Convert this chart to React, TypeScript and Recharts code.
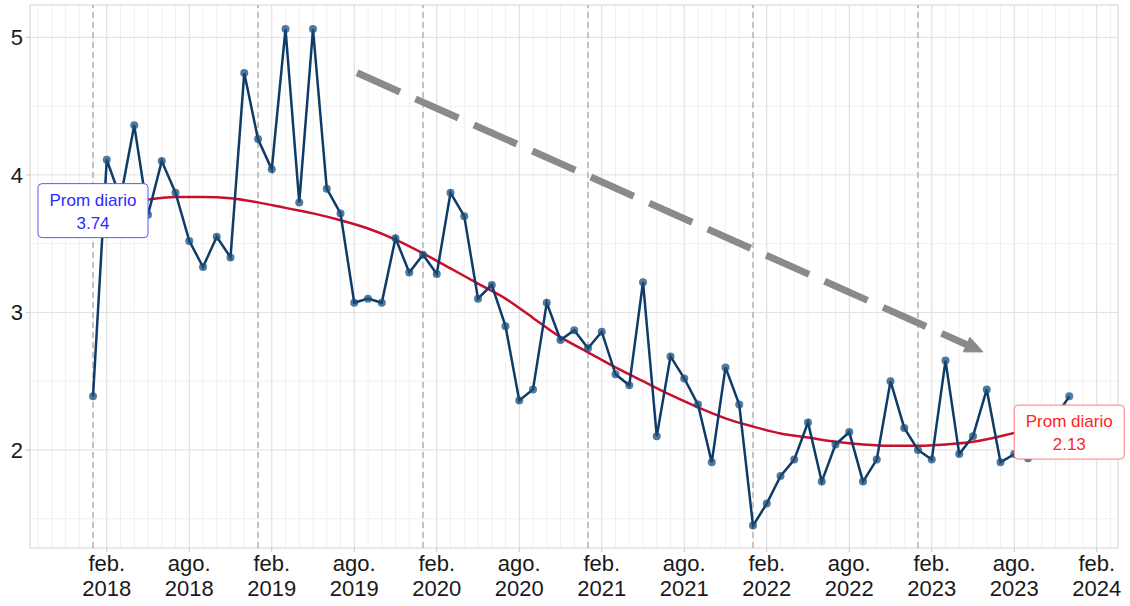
import React from 'react';
import {
  ComposedChart,
  Line,
  XAxis,
  YAxis,
  CartesianGrid,
  ReferenceLine,
  ReferenceDot,
  ReferenceArea,
} from 'recharts';

// Monthly series, Jan 2018 (index 0) .. Dec 2023 (index 71)
const VALUES: number[] = [
  2.39, 4.11, 3.83, 4.36, 3.71, 4.10, 3.87, 3.52, 3.33, 3.55, 3.40, 4.74,
  4.26, 4.04, 5.06, 3.80, 5.06, 3.90, 3.72, 3.07, 3.10, 3.07, 3.54, 3.29,
  3.42, 3.28, 3.87, 3.70, 3.10, 3.20, 2.90, 2.36, 2.44, 3.07, 2.80, 2.87,
  2.74, 2.86, 2.55, 2.47, 3.22, 2.10, 2.68, 2.52, 2.33, 1.91, 2.60, 2.33,
  1.45, 1.61, 1.81, 1.93, 2.20, 1.77, 2.04, 2.13, 1.77, 1.93, 2.50, 2.16,
  2.00, 1.93, 2.65, 1.97, 2.10, 2.44, 1.91, 1.97, 1.94, 2.10, 2.24, 2.39,
];

// Smoothed trend read at month indices
const TREND_MONTHS: number[] = [0, 2, 4, 6, 8, 10, 12, 14, 16, 18, 20, 22, 24, 26, 28, 30, 32, 34, 36, 38, 40, 42, 44, 46, 48, 50, 52, 54, 56, 58, 60, 62, 64, 66, 68, 70, 71];
const TREND_VALUES: number[] = [3.74, 3.79, 3.82, 3.84, 3.84, 3.83, 3.80, 3.76, 3.72, 3.67, 3.61, 3.53, 3.43, 3.32, 3.21, 3.10, 2.96, 2.82, 2.71, 2.60, 2.50, 2.40, 2.31, 2.23, 2.17, 2.12, 2.09, 2.06, 2.04, 2.03, 2.03, 2.04, 2.06, 2.10, 2.15, 2.21, 2.24];

// x tick labels (month index -> label)
const X_TICKS: number[] = [1, 7, 13, 19, 25, 31, 37, 43, 49, 55, 61, 67, 73];
const X_TICK_MONTHS: string[] = ['feb.', 'ago.', 'feb.', 'ago.', 'feb.', 'ago.', 'feb.', 'ago.', 'feb.', 'ago.', 'feb.', 'ago.', 'feb.'];
const X_TICK_YEARS: string[] = ['2018', '2018', '2019', '2019', '2020', '2020', '2021', '2021', '2022', '2022', '2023', '2023', '2024'];
const Y_TICKS: number[] = [2, 3, 4, 5];
const Y_MINOR: number[] = [1.5, 2.5, 3.5, 4.5];
const JAN_LINES: number[] = [0, 12, 24, 36, 48, 60];

const LABEL_LEFT = { x: 0, y: 3.74, text: 'Prom diario', value: '3.74' };
const LABEL_RIGHT = { x: 71, y: 2.13, text: 'Prom diario', value: '2.13' };
const ARROW_START = { x: 19.2, y: 4.742 };
const ARROW_END = { x: 64.73, y: 2.713 };

const XMIN = -4.582;
const XMAX = 74.545;
const YMIN = 1.2873;
const YMAX = 5.235;

const MINOR_X: number[] = [];
for (let m = -4; m <= 74; m++) MINOR_X.push(m);

const DATA = VALUES.map((v, i) => ({ m: i, v }));
const TREND = TREND_MONTHS.map((m, i) => ({ m, t: TREND_VALUES[i] }));

const FONT = '"Liberation Sans", Arial, sans-serif';

const XTick = (props: any) => {
  const { x, y, payload } = props;
  const idx = X_TICKS.indexOf(payload.value);
  return (
    <text x={x} y={y} textAnchor="middle" fontSize={22} fill="#1a1a1a" fontFamily={FONT}>
      <tspan x={x} dy={19}>{X_TICK_MONTHS[idx]}</tspan>
      <tspan x={x} dy={25}>{X_TICK_YEARS[idx]}</tspan>
    </text>
  );
};

const makeLabel = (text: string, value: string, color: string, border: string) => (props: any) => {
  const { cx, cy } = props;
  return (
    <g>
      <rect x={cx - 55} y={cy - 27} width={110} height={54} rx={4} ry={4} fill="#ffffff" stroke={border} strokeWidth={1} />
      <text x={cx} y={cy - 5} textAnchor="middle" fontSize={17} fill={color} fontFamily={FONT}>{text}</text>
      <text x={cx} y={cy + 18} textAnchor="middle" fontSize={17} fill={color} fontFamily={FONT}>{value}</text>
    </g>
  );
};

const ArrowShape = (props: any) => {
  const { x1, y1, x2, y2 } = props;
  if ([x1, y1, x2, y2].some((v) => typeof v !== 'number' || isNaN(v))) return null;
  const dx = x2 - x1;
  const dy = y2 - y1;
  const len = Math.sqrt(dx * dx + dy * dy);
  const ux = dx / len;
  const uy = dy / len;
  const headLen = 18;
  const halfW = 8;
  const bx = x2 - ux * headLen;
  const by = y2 - uy * headLen;
  const lx = x2 - ux * (headLen - 4);
  const ly = y2 - uy * (headLen - 4);
  const pts = `${x2},${y2} ${bx - uy * halfW},${by + ux * halfW} ${bx + uy * halfW},${by - ux * halfW}`;
  return (
    <g>
      <line x1={x1} y1={y1} x2={lx} y2={ly} stroke="#8a8a8a" strokeWidth={7} strokeDasharray="47 17" />
      <polygon points={pts} fill="#8a8a8a" stroke="#8a8a8a" strokeWidth={1} strokeLinejoin="round" />
    </g>
  );
};

export default function App() {
  return (
    <div style={{ position: 'absolute', left: 0, top: 0, background: '#ffffff' }}>
      <ComposedChart
        width={1130}
        height={606}
        data={DATA}
        margin={{ top: 5, right: 12, bottom: 0, left: 0 }}
        style={{ fontFamily: FONT }}
      >
        <CartesianGrid
          stroke="#f0f0f0"
          strokeWidth={1}
          horizontalValues={Y_MINOR}
          verticalValues={MINOR_X}
        />
        <CartesianGrid
          stroke="#e0e0e0"
          strokeWidth={1}
          horizontalValues={Y_TICKS}
          verticalValues={X_TICKS}
        />
        <XAxis
          dataKey="m"
          type="number"
          domain={[XMIN, XMAX]}
          ticks={X_TICKS}
          allowDataOverflow
          interval={0}
          tick={<XTick />}
          tickLine={{ stroke: '#c8c8c8' }}
          tickSize={4}
          tickMargin={0}
          axisLine={false}
          height={58}
        />
        <YAxis
          type="number"
          domain={[YMIN, YMAX]}
          ticks={Y_TICKS}
          allowDataOverflow
          interval={0}
          width={30}
          tickSize={4}
          tickMargin={3}
          tickLine={{ stroke: '#c8c8c8' }}
          axisLine={false}
          tick={{ fontSize: 22, fill: '#1a1a1a', fontFamily: FONT }}
        />
        <ReferenceArea x1={XMIN} x2={XMAX} y1={YMIN} y2={YMAX} fill="none" stroke="#d2d2d2" strokeWidth={1} ifOverflow="visible" />
        {JAN_LINES.map((m) => (
          <ReferenceLine key={'jan' + m} x={m} stroke="#b3b3b3" strokeWidth={1.5} strokeDasharray="6 4" />
        ))}
        <ReferenceLine
          segment={[ARROW_START, ARROW_END]}
          ifOverflow="visible"
          shape={ArrowShape}
        />
        <Line
          data={TREND}
          dataKey="t"
          type="monotone"
          stroke="#c8102e"
          strokeWidth={2.5}
          dot={false}
          activeDot={false}
          isAnimationActive={false}
        />
        <Line
          dataKey="v"
          type="linear"
          stroke="#0e3b67"
          strokeWidth={2.5}
          dot={{ r: 4, fill: '#1b4d7a', fillOpacity: 0.75, stroke: 'none' }}
          activeDot={false}
          isAnimationActive={false}
        />
        <ReferenceDot
          x={LABEL_LEFT.x}
          y={LABEL_LEFT.y}
          ifOverflow="hidden"
          shape={makeLabel(LABEL_LEFT.text, LABEL_LEFT.value, '#2b2bff', '#5a5aff')}
          zIndex={2000}
        />
        <ReferenceDot
          x={LABEL_RIGHT.x}
          y={LABEL_RIGHT.y}
          ifOverflow="hidden"
          shape={makeLabel(LABEL_RIGHT.text, LABEL_RIGHT.value, '#ff2424', '#ff7a7a')}
          zIndex={2000}
        />
      </ComposedChart>
    </div>
  );
}
